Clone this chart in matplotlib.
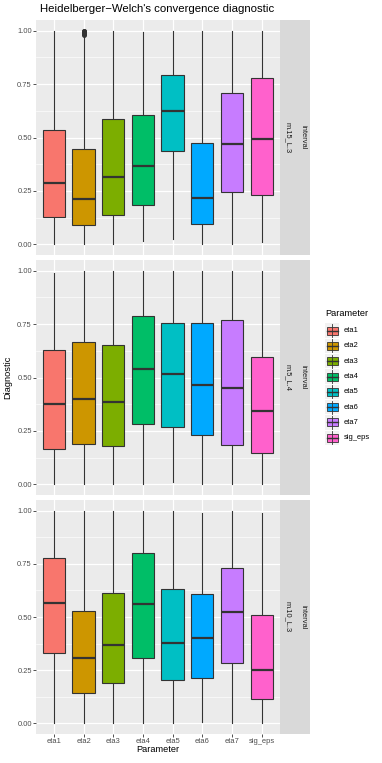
import matplotlib
matplotlib.use("Agg")
import matplotlib.pyplot as plt
from matplotlib.patches import Rectangle

plt.rcParams['font.family'] = ['Liberation Sans', 'DejaVu Sans']

# data
params = ['eta1', 'eta2', 'eta3', 'eta4', 'eta5', 'eta6', 'eta7', 'sig_eps']
colors = ['#F8766D', '#CD9600', '#7CAE00', '#00BE67', '#00BFC4', '#00A9FF', '#C77CFF', '#FF61CC']
panels = ['m.15_L.3', 'm.5_L.4', 'm.10_L.3']

# per panel: whisker low, q1, median, q3, whisker high
low = {
    'm.15_L.3': [0.0, 0.0, 0.0, 0.017, 0.023, 0.0, 0.0, 0.0125],
    'm.5_L.4': [0.0, 0.0, 0.0, 0.0, 0.0125, 0.0, 0.0, 0.0],
    'm.10_L.3': [0.0, 0.0, 0.0, 0.0, 0.0, 0.006, 0.0, 0.0],
}
q1 = {
    'm.15_L.3': [0.127, 0.092, 0.139, 0.184, 0.439, 0.097, 0.245, 0.231],
    'm.5_L.4': [0.167, 0.189, 0.179, 0.281, 0.270, 0.231, 0.183, 0.145],
    'm.10_L.3': [0.330, 0.141, 0.188, 0.307, 0.203, 0.213, 0.286, 0.113],
}
med = {
    'm.15_L.3': [0.289, 0.212, 0.316, 0.367, 0.625, 0.219, 0.469, 0.495],
    'm.5_L.4': [0.378, 0.399, 0.385, 0.538, 0.516, 0.465, 0.449, 0.343],
    'm.10_L.3': [0.565, 0.308, 0.369, 0.562, 0.377, 0.402, 0.523, 0.250],
}
q3 = {
    'm.15_L.3': [0.537, 0.447, 0.587, 0.605, 0.791, 0.472, 0.709, 0.777],
    'm.5_L.4': [0.629, 0.665, 0.651, 0.786, 0.757, 0.754, 0.769, 0.598],
    'm.10_L.3': [0.776, 0.526, 0.612, 0.800, 0.631, 0.609, 0.729, 0.510],
}
high = {
    'm.15_L.3': [1.0, 0.972, 1.0, 0.994, 1.0, 1.0, 1.0, 1.0],
    'm.5_L.4': [0.988, 1.0, 0.997, 1.0, 1.0, 1.0, 1.0, 1.0],
    'm.10_L.3': [1.0, 1.0, 1.0, 1.0, 1.0, 0.99, 1.0, 0.99],
}
outliers = {
    'm.15_L.3': {'eta2': [0.978, 0.984, 0.989, 0.993, 0.997, 1.0]},
}

W, H = 382, 763
fig = plt.figure(figsize=(W / 100, H / 100), dpi=100)


def px_axes(x0, y0, x1, y1):
    return fig.add_axes([x0 / W, 1 - y1 / H, (x1 - x0) / W, (y1 - y0) / H])


dark = '#333333'
tick_col = '#4D4D4D'
small = 5.4
mid = 6.7
panel_px = [(20, 255), (260, 495), (500, 734)]

for pi, name in enumerate(panels):
    y0, y1 = panel_px[pi]
    ax = px_axes(36, y0, 279.5, y1)
    ax.set_facecolor('#EBEBEB')
    stats = []
    for i, p in enumerate(params):
        stats.append({
            'whislo': low[name][i], 'q1': q1[name][i], 'med': med[name][i],
            'q3': q3[name][i], 'whishi': high[name][i],
            'fliers': outliers.get(name, {}).get(p, []),
        })
    bp = ax.bxp(stats, positions=range(1, 9), widths=0.75, patch_artist=True,
                showcaps=False,
                boxprops=dict(edgecolor=dark, linewidth=0.8),
                whiskerprops=dict(color=dark, linewidth=0.8),
                medianprops=dict(color=dark, linewidth=1.6),
                flierprops=dict(marker='o', markersize=2.5, markerfacecolor=dark,
                                markeredgecolor=dark))
    for box, c in zip(bp['boxes'], colors):
        box.set_facecolor(c)
        box.set_zorder(3)
    for m in bp['medians']:
        m.set_zorder(4)
    ax.set_xlim(0.4, 8.6)
    ax.set_ylim(-0.05, 1.05)
    ax.set_yticks([0, 0.25, 0.5, 0.75, 1.0])
    ax.set_yticklabels(['0.00', '0.25', '0.50', '0.75', '1.00'])
    ax.set_yticks([0.125, 0.375, 0.625, 0.875], minor=True)
    ax.grid(True, which='major', color='white', linewidth=0.9)
    ax.grid(True, which='minor', axis='y', color='white', linewidth=0.45)
    ax.set_axisbelow(True)
    for s in ax.spines.values():
        s.set_visible(False)
    ax.tick_params(axis='both', which='major', length=2, width=0.6, color='#333333',
                   labelsize=small, labelcolor=tick_col, pad=1)
    ax.tick_params(which='minor', length=0)
    ax.set_xticks(range(1, 9))
    if pi == 2:
        ax.set_xticklabels(params)
        ax.set_xlabel('Parameter', fontsize=mid, labelpad=0)
    else:
        ax.set_xticklabels([])
        ax.tick_params(axis='x', length=0)

    # facet strips (two row variables)
    for sx0, sx1, txt in [(280, 295, name), (295, 310, 'interval')]:
        sa = px_axes(sx0, y0, sx1, y1)
        sa.set_facecolor('#D9D9D9')
        sa.set_xticks([])
        sa.set_yticks([])
        for s in sa.spines.values():
            s.set_visible(False)
        sa.text(0.5, 0.5, txt, rotation=270, ha='center', va='center',
                fontsize=small, color='#1A1A1A', transform=sa.transAxes)

fig.text(40 / W, 1 - 9.5 / H, 'Heidelberger\u2212Welch\'s convergence diagnostic',
         fontsize=8.2, ha='left', va='center', color='black')
fig.text(8 / W, 1 - 377 / H, 'Diagnostic', rotation=90, fontsize=mid,
         ha='center', va='center')

# legend
lg = px_axes(320, 300, 382, 450)
lg.set_xlim(320, 382)
lg.set_ylim(450, 300)
lg.axis('off')
lg.text(325, 314, 'Parameter', fontsize=mid, ha='left', va='center')
for i, (p, c) in enumerate(zip(params, colors)):
    yc = 330.7 + 15.3 * i
    lg.add_patch(Rectangle((325, yc - 7.2), 14, 14.4, facecolor='#F2F2F2', edgecolor='none'))
    lg.plot([332, 332], [yc - 6.5, yc + 6.5], color=dark, linewidth=0.6)
    lg.add_patch(Rectangle((326.5, yc - 4), 11, 8, facecolor=c, edgecolor=dark, linewidth=0.6))
    lg.plot([326.5, 337.5], [yc, yc], color=dark, linewidth=1.0)
    lg.text(344, yc, p, fontsize=small, ha='left', va='center', color='black')

fig.savefig('out.png', dpi=100)
